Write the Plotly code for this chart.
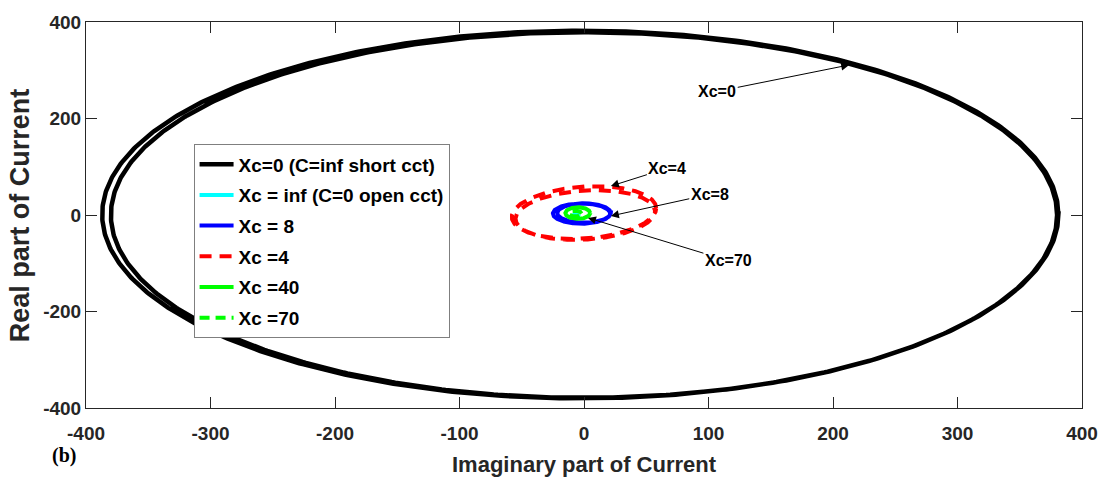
import numpy as np
import plotly.graph_objects as go

# Trace names as shown in the legend
names = [
    "Xc=0 (C=inf short cct)",
    "Xc = inf (C=0 open cct)",
    "Xc = 8",
    "Xc =4",
    "Xc =40",
    "Xc =70",
]
colors = ["#000000", "#00FFFF", "#0000FF", "#FF0000", "#00FF00", "#00FF00"]
dashes = ["solid", "solid", "solid", "12px,8px", "solid", "10px,6px"]

# Locus of each current phasor: one entry per loop of the trajectory
# (centre imag, centre real, semi-axis imag, semi-axis real, skew)
loop_cx = [[-3, 0], [-6], [0, -2], [0, 1], [-5], [-7]]
loop_cy = [[1, 0], [2], [4, 3], [5, 0], [4], [3]]
loop_rx = [[384, 380], [2], [21.5, 23], [58, 56], [10], [5]]
loop_ry = [[381, 379], [3], [20, 21], [54, 51], [12], [6]]
loop_skew = [[0, 0], [0], [0, 0], [9, 8], [0], [0]]

x_ticks = [-400, -300, -200, -100, 0, 100, 200, 300, 400]
y_ticks = [-400, -200, 0, 200, 400]

# Arrow labels: text, arrow tip (imag, real), label centre (imag, real)
label_text = ["Xc=0", "Xc=4", "Xc=8", "Xc=70"]
label_tip_x = [213, 21.6, 21.6, 3.2]
label_tip_y = [311, 60, -2, -6]
label_pos_x = [107, 67, 101, 116]
label_pos_y = [256, 97, 43, -95]

theta = np.linspace(0, 2 * np.pi, 721)


def trajectory(cxs, cys, rxs, rys, skews):
    xs, ys = [], []
    for cx, cy, rx, ry, k in zip(cxs, cys, rxs, rys, skews):
        xs.append(cx + rx * np.cos(theta))
        ys.append(cy + ry * np.sin(theta) + k * np.cos(theta))
    return np.concatenate(xs), np.concatenate(ys)


fig = go.Figure()
for i, name in enumerate(names):
    x, y = trajectory(loop_cx[i], loop_cy[i], loop_rx[i], loop_ry[i], loop_skew[i])
    fig.add_trace(go.Scatter(
        x=x, y=y, mode="lines", name=name, legendgroup=f"g{i}",
        line=dict(color=colors[i], width=4.5 if i == 0 else 4, dash=dashes[i]),
    ))

sans = "Liberation Sans, Arial, sans-serif"
tick_font = dict(family=sans, size=19, color="#262626", weight="bold")

fig.update_xaxes(
    range=[-400, 400], tickvals=x_ticks, ticktext=[str(v) for v in x_ticks],
    ticks="inside", ticklen=11, tickwidth=1, tickcolor="#262626",
    showline=True, linecolor="#262626", linewidth=1, mirror="ticks",
    showgrid=False, zeroline=False, tickfont=tick_font, ticklabelstandoff=8,
)
fig.update_yaxes(
    range=[-400, 400], tickvals=y_ticks, ticktext=[str(v) for v in y_ticks],
    ticks="inside", ticklen=11, tickwidth=1, tickcolor="#262626",
    showline=True, linecolor="#262626", linewidth=1, mirror="ticks",
    showgrid=False, zeroline=False, tickfont=tick_font, ticklabelstandoff=0,
)

annotations = []
for t, hx, hy, px, py in zip(label_text, label_tip_x, label_tip_y, label_pos_x, label_pos_y):
    annotations.append(dict(
        x=hx, y=hy, ax=px, ay=py, xref="x", yref="y", axref="x", ayref="y",
        text=t, showarrow=True, arrowhead=2, arrowsize=1.6, arrowwidth=1,
        arrowcolor="#000000",
        font=dict(family=sans, size=16, color="#000000", weight="bold"),
    ))

# Axis titles and panel tag
annotations.append(dict(
    text="Imaginary part of Current", xref="paper", yref="paper",
    x=0.5, y=-0.147, xanchor="center", yanchor="middle", showarrow=False,
    font=dict(family=sans, size=22, color="#262626", weight="bold"),
))
annotations.append(dict(
    text="Real part of Current", xref="paper", yref="paper",
    x=-0.066, y=0.5, xanchor="center", yanchor="middle", showarrow=False,
    textangle=-90,
    font=dict(family=sans, size=27, color="#262626", weight="bold"),
))
annotations.append(dict(
    text="(b)", xref="paper", yref="paper", x=-0.0225, y=-0.124,
    xanchor="center", yanchor="middle", showarrow=False,
    font=dict(family="Liberation Serif, Times New Roman, serif", size=20,
              color="#000000", weight="bold"),
))

fig.update_layout(
    width=1110, height=485,
    margin=dict(l=86, r=23, t=20, b=77),
    paper_bgcolor="white", plot_bgcolor="white",
    annotations=annotations,
    legend=dict(
        x=0.108, y=0.683, xanchor="left", yanchor="top",
        bgcolor="white", bordercolor="#7f7f7f", borderwidth=1,
        font=dict(family=sans, size=19, color="#000000", weight="bold"),
        tracegroupgap=3, itemwidth=34,
    ),
)

fig.write_html("out.html")
